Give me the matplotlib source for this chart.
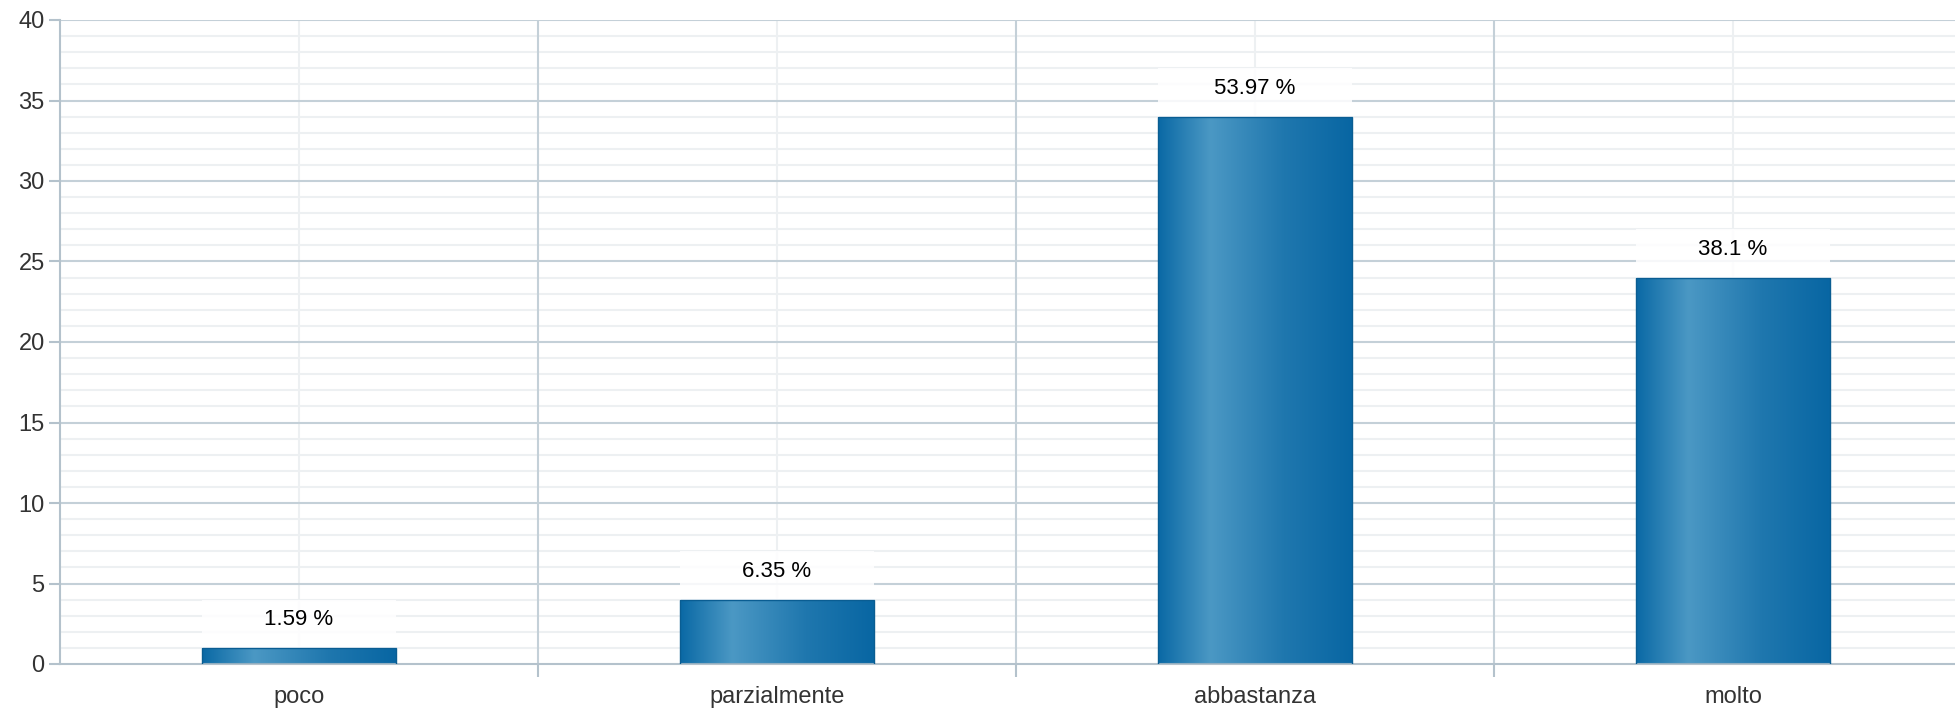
import matplotlib
matplotlib.use("Agg")
from matplotlib import pyplot as plt
from matplotlib.colors import LinearSegmentedColormap
from matplotlib.patches import Rectangle
import numpy as np

categories = ["poco", "parzialmente", "abbastanza", "molto"]
counts = [1, 4, 34, 24]
labels = ["1.59 %", "6.35 %", "53.97 %", "38.1 %"]

plt.rcParams['font.family'] = ['Liberation Sans', 'DejaVu Sans']

axiscol = '#b4c2cc'
majcol = '#c4d0d8'
mincol = '#edf0f2'
textcol = '#333333'

fig = plt.figure(figsize=(19.55, 7.10), dpi=100)
# the plot area runs a little past the right edge of the picture
ax = fig.add_axes([60/1955, 1-664/710, 1912/1955, (664-20)/710])

x = np.arange(len(categories))
width = 0.405
ax.set_xlim(-0.5, len(categories)-0.5)
ax.set_ylim(0, 40)

# grid
for yv in np.arange(1, 40, 1):
    if yv % 5:
        ax.axhline(yv, color=mincol, lw=1.5, zorder=0)
for yv in np.arange(5, 41, 5):
    ax.axhline(yv, color=majcol, lw=1.5, zorder=0.5)
for xv in x:
    ax.axvline(xv, color=mincol, lw=1.5, zorder=0.2)
for xv in x[:-1] + 0.5:
    ax.axvline(xv, color=majcol, lw=1.5, zorder=0.5)

# gradient for bars
cmap = LinearSegmentedColormap.from_list(
    "bar", [(0, '#0a69a5'), (0.27, '#4b98c4'), (0.65, '#1f77ae'), (1, '#0866a3')])
grad = np.linspace(0, 1, 256).reshape(1, -1)

bars = ax.bar(x, counts, width=width, color='none', edgecolor='#0a5d92', lw=1, zorder=3)
for b, lab in zip(bars, labels):
    x0, w, h = b.get_x(), b.get_width(), b.get_height()
    im = ax.imshow(grad, cmap=cmap, aspect='auto', extent=[x0, x0+w, 0, h], zorder=2)
    clip = Rectangle((x0, 0), w, h, transform=ax.transData)
    im.set_clip_path(clip)
    # white box behind the value label
    ax.add_patch(Rectangle((x0, h), w, 3.0, facecolor='white', edgecolor='none', alpha=0.85, zorder=1))
    ax.text(x0 + w/2, h + 1.75, lab, ha='center', va='center', fontsize=16, color='black', zorder=4)

ax.set_xticks(x[:-1] + 0.5)
ax.set_xticklabels([])
ax.set_xticks(x, minor=True)
ax.set_xticklabels(categories, minor=True, fontsize=17, color=textcol)
ax.tick_params(axis='x', which='major', length=9, width=1.5, color=axiscol)
ax.tick_params(axis='x', which='minor', length=0, pad=16)

ax.set_yticks(np.arange(0, 41, 5))
ax.tick_params(axis='y', length=8, width=1.5, color=axiscol, labelsize=17, labelcolor=textcol, pad=3)

for s in ['top', 'right']:
    ax.spines[s].set_visible(False)
for s in ['left', 'bottom']:
    ax.spines[s].set_color(axiscol)
    ax.spines[s].set_linewidth(1.5)

fig.savefig("out.png", dpi=100)
